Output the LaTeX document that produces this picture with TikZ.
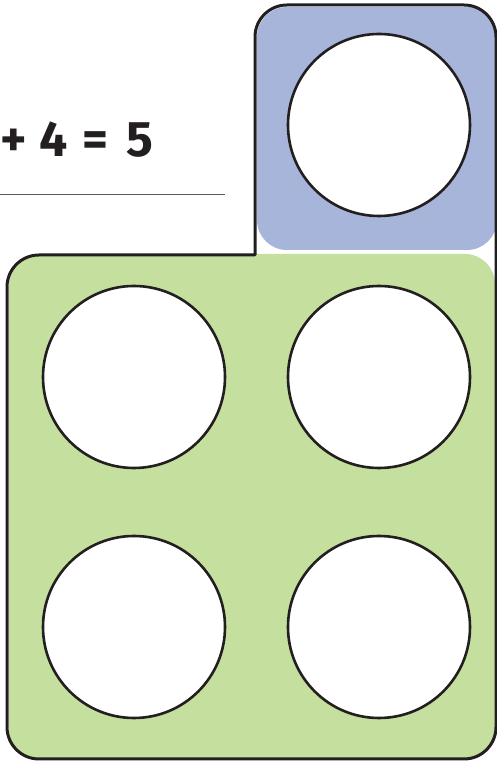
\documentclass[tikz,border=0pt]{standalone}
\usepackage{fontspec}
\newfontfamily\eqfont{Fira Sans}
\definecolor{bluefill}{RGB}{167,181,218}
\definecolor{greenfill}{RGB}{197,223,158}
\definecolor{ink}{RGB}{35,31,32}
\begin{document}
\begin{tikzpicture}[x=1pt,y=1pt,
  counter/.style={circle,draw=ink,fill=white,line width=2.6pt,minimum size=182pt,inner sep=0pt},
  outline/.style={draw=ink,line width=3pt,line join=round}]
\useasboundingbox (0,0) rectangle (497,763);
% fills
\fill[greenfill,rounded corners=30pt] (9,3) rectangle (495,509);
\fill[bluefill,rounded corners=30pt] (257,513) rectangle (497,756);
% outline of the combined shape
\def\rr{32}
\draw[outline] (7,4+\rr) -- (7,508-\rr) arc[start angle=180,end angle=90,radius=\rr]
  -- (255,508) -- (255,758-\rr) arc[start angle=180,end angle=90,radius=\rr]
  -- (496-\rr,758) arc[start angle=90,end angle=0,radius=\rr]
  -- (496,4+\rr) arc[start angle=0,end angle=-90,radius=\rr]
  -- (7+\rr,4) arc[start angle=270,end angle=180,radius=\rr] -- cycle;
% counters
\node[counter] (c0) at (379,638) {};
\node[counter] (c1) at (134,386) {};
\node[counter] (c2) at (379,386) {};
\node[counter] (c3) at (134,136) {};
\node[counter] (c4) at (379,136) {};
% equation and answer line
\node[anchor=base west,inner sep=0pt,text=ink,font=\eqfont\bfseries\fontsize{50}{54}\selectfont] (eq) at (0,606) {+\hspace{13pt}4\hspace{15pt}=\hspace{18pt}5};
\coordinate (l0) at (0,568.5);
\coordinate (l1) at (225,568.5);
\draw[line width=1.5pt,color=black!65] (l0) -- (l1);
\end{tikzpicture}
\end{document}
